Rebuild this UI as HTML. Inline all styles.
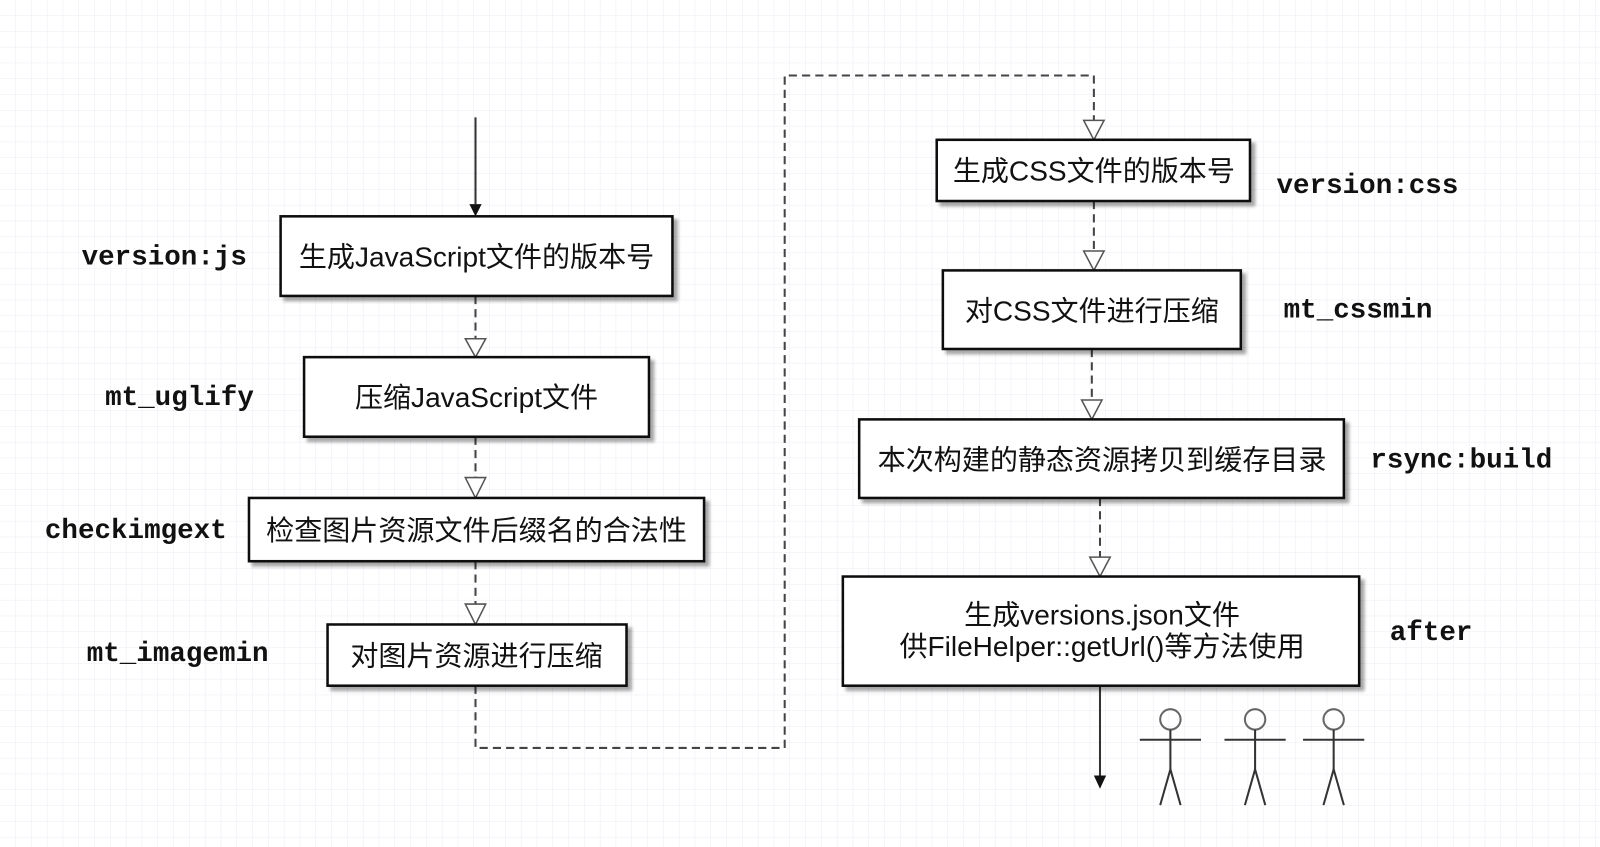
<!DOCTYPE html>
<html><head><meta charset="utf-8"><style>
html,body{margin:0;padding:0;background:#fff}
svg{display:block}
.t{font-family:"Liberation Sans","Noto Sans CJK SC",sans-serif;font-size:27.5px;fill:#111}
.l{font-family:"Liberation Mono",monospace;font-weight:bold;font-size:27px;fill:#111}
</style></head><body>
<svg width="1600" height="847" viewBox="0 0 1600 847" xmlns="http://www.w3.org/2000/svg">
<defs>
<pattern id="g" width="15.8" height="15.8" patternUnits="userSpaceOnUse">
<path d="M15.8 0V15.8H0" fill="none" stroke="#ebebf5" stroke-width="1"/>
</pattern>
<filter id="s" x="-5%" y="-5%" width="115%" height="130%"><feDropShadow dx="4" dy="4" stdDeviation="1.5" flood-color="#000" flood-opacity="0.35"/></filter>
</defs>
<rect width="1600" height="847" fill="url(#g)"/>
<g transform="scale(1.0204)">
<g stroke="#444" stroke-width="2" fill="none">
<line x1="466" y1="115" x2="466" y2="200" stroke="#333"/>
<g stroke-dasharray="8,5">
<line x1="466" y1="290" x2="466" y2="332"/>
<line x1="466" y1="428" x2="466" y2="468"/>
<line x1="466" y1="550" x2="466" y2="592"/>
<polyline points="466,672 466,733 769,733 769,74 1072,74 1072,118"/>
<line x1="1072" y1="197" x2="1072" y2="246"/>
<line x1="1070" y1="342" x2="1070" y2="392"/>
<line x1="1078" y1="488" x2="1078" y2="546"/>
</g>
<line x1="1078" y1="672" x2="1078" y2="760" stroke="#333"/>
</g>
<g fill="#fff" stroke="#555" stroke-width="1.5">
<path d="M456,332 L476,332 L466,350Z"/>
<path d="M456,468 L476,468 L466,488Z"/>
<path d="M456,592 L476,592 L466,612Z"/>
<path d="M1062,118 L1082,118 L1072,137Z"/>
<path d="M1062,246 L1082,246 L1072,265Z"/>
<path d="M1060,392 L1080,392 L1070,411Z"/>
<path d="M1068,546 L1088,546 L1078,565Z"/>
</g>
<path d="M460,200 L472,200 L466,212Z" fill="#111"/>
<path d="M1072,760 L1084,760 L1078,773Z" fill="#111"/>
<g fill="#fff" stroke="#111" stroke-width="2.5" filter="url(#s)">
<rect x="275" y="212" width="384" height="78"/>
<rect x="298" y="350" width="338" height="78"/>
<rect x="244" y="488" width="446" height="62"/>
<rect x="321" y="612" width="293" height="60"/>
<rect x="918" y="137" width="307" height="60"/>
<rect x="924" y="265" width="292" height="77"/>
<rect x="842" y="411" width="475" height="77"/>
<rect x="826" y="565" width="506" height="107"/>
</g>
<g class="t" text-anchor="middle">
<text x="467" y="261">生成JavaScript文件的版本号</text>
<text x="467" y="399">压缩JavaScript文件</text>
<text x="467" y="529">检查图片资源文件后缀名的合法性</text>
<text x="467" y="652">对图片资源进行压缩</text>
<text x="1072" y="177">生成CSS文件的版本号</text>
<text x="1070" y="314">对CSS文件进行压缩</text>
<text x="1080" y="460">本次构建的静态资源拷贝到缓存目录</text>
<text x="1080" y="612">生成versions.json文件</text>
<text x="1080" y="643">供FileHelper::getUrl()等方法使用</text>
</g>
<g class="l">
<text x="80" y="259">version:js</text>
<text x="103" y="397">mt_uglify</text>
<text x="44" y="527">checkimgext</text>
<text x="85" y="648">mt_imagemin</text>
<text x="1251" y="189">version:css</text>
<text x="1258" y="311">mt_cssmin</text>
<text x="1343" y="458">rsync:build</text>
<text x="1362" y="627">after</text>
</g>
<g stroke="#333" stroke-width="2" fill="none">
<g id="p"><circle cx="1147" cy="705" r="10" stroke="#666"/><line x1="1117" y1="725" x2="1177" y2="725"/><line x1="1147" y1="715" x2="1147" y2="754"/><polyline points="1137,789 1147,754 1157,789"/></g>
<use href="#p" x="83"/>
<use href="#p" x="160"/>
</g>
</g>
</svg>
</body></html>
